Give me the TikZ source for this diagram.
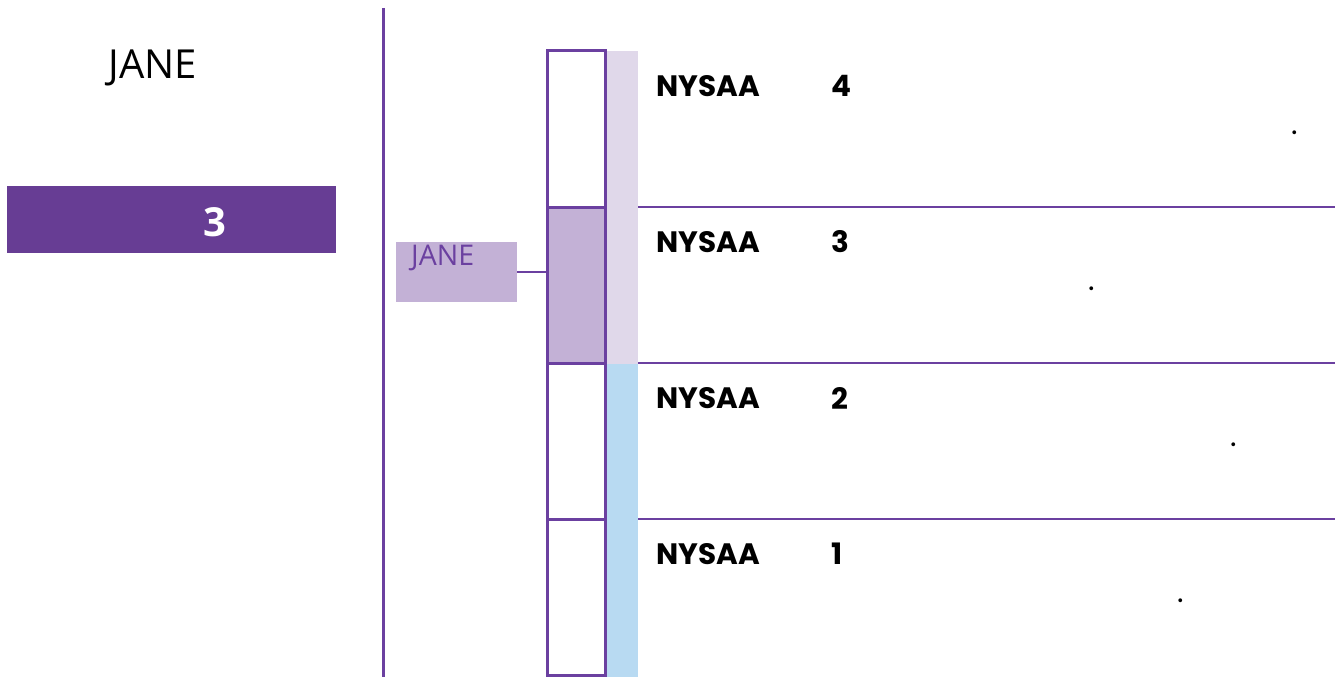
\documentclass[tikz,border=0pt]{standalone}
\usepackage{fontspec}
\setmainfont{Open Sans}
\newfontfamily\levelfont{Poppins}
\definecolor{nyline}{HTML}{6B40A0}
\definecolor{nybar}{HTML}{673D94}
\definecolor{nylav}{HTML}{C3B1D6}
\definecolor{nypale}{HTML}{E0D8EA}
\definecolor{nyblue}{HTML}{B8DAF2}
\tikzset{
  rule/.style={draw=nyline,line width=3pt},
  cell/.style={rule,minimum width=58pt,minimum height=156pt,inner sep=0pt,outer sep=0pt},
  level/.style={font=\levelfont\bfseries\fontsize{29.5}{29.5}\selectfont,anchor=west,inner sep=0pt},
  dot/.style={font=\levelfont\fontsize{31}{31}\selectfont,anchor=base,inner sep=0pt}
}
\begin{document}
\begin{tikzpicture}[x=1pt,y=-1pt]
                \useasboundingbox (0,0) rectangle (1335,677);
                \fill[nypale] (605,51) rectangle (638,364);
                \fill[nyblue] (605,364) rectangle (638,677);
                \draw[rule] (383,8) -- (383,677);
                \node[font=\fontsize{40}{40}\selectfont] (name) at (153,68) {JANE};
                \node[fill=nybar,minimum width=329pt,minimum height=67pt,inner sep=0pt] (score) at (171.5,219.5)
                    {};
                \node[text=white,font=\bfseries\fontsize{40}{40}\selectfont] at (215,222) {3};
                \foreach \i/\yc in {4/129,3/285,2/441,1/597}
                    \node[cell] (c\i) at (576,\yc) {};
                \node[cell,fill=nylav] (c3) at (576,285) {};
                \node[fill=nylav,minimum width=121pt,minimum height=60pt,inner sep=0pt] (tag) at (456.5,272) {};
                \node[text=nyline,font=\fontsize{28.5}{28.5}\selectfont,anchor=west,inner sep=0pt] at (411,258) {JANE};
                \draw[rule,line width=2.5pt] (tag.east) -- (tag.east -| c3.west);
                \foreach \i/\yc/\dx in {4/129/1295,3/285/1092,2/441/1234,1/597/1181}{
                    \node[level] (n\i) at (656,\yc-43) {NYSAA};
                    \node[level] (v\i) at (831,\yc-43) {\i};
                    \node[dot] (d\i) at (\dx,\yc+5) {.};
                }
                \foreach \i in {3,2,1}{
                    \coordinate (l\i) at (1335,{597-156*(\i-1)-78});
                    \draw[rule,line width=2.5pt] (l\i -| 638,0) -- (l\i);
                }
            \end{tikzpicture}
\end{document}
